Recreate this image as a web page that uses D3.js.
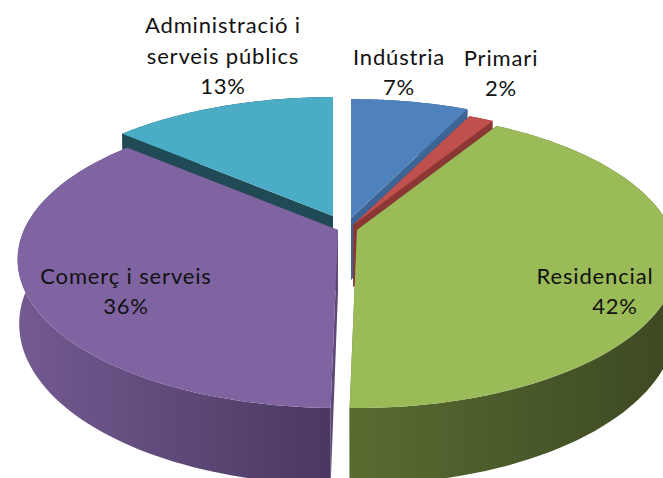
<!DOCTYPE html>
<html>
<head>
<meta charset="utf-8">
<script src="https://cdn.jsdelivr.net/npm/d3@7/dist/d3.min.js"></script>
<style>
html,body{margin:0;padding:0;background:#fff;overflow:hidden}
svg{display:block}
text{font-family:Lato,"Open Sans",sans-serif;font-size:22px;letter-spacing:0.85px;fill:#111;text-anchor:middle}
</style>
</head>
<body>
<svg id="c" width="663" height="478"></svg>
<script>
// Data
const categories = ["Indústria","Primari","Residencial","Comerç i serveis","Administració i serveis públics"];
const values = [7.2,1.5,41.6,36.0,13.7];
const percentLabels = ["7%","2%","42%","36%","13%"];

// Styles
const topColors  = ["#4f81bd","#c0504d","#9bbb59","#8064a2","#4bacc6"];
const faceColors = ["#3c6494","#8a3735","#5a6e32","#5c4775","#1f4a56"];
const wallStops  = [["#3c6494","#3c6494"],["#8a3735","#8a3735"],["#586c31","#3c4822"],["#735a91","#4a3860"],["#1f4a56","#1f4a56"]];

// Projection parameters
const RX=314, RY=142.6, K=0.199, SHRINK=0.005, DEPTH=62;
const center={x:345,y:222};
const apexShift=[[6,-4],[8,3],[12,8],[-7,8],[-12,-6]];
const drawOrder=[4,3,0,1,2];

const svg=d3.select("#c");
const defs=svg.append("defs");
const arcs=d3.pie().sort(null).value(d=>d)(values);

function project(i,theta,r,z){
  const u=r*Math.sin(theta), v=-r*Math.cos(theta), w=1-K*v, s=1-SHRINK*z;
  return [center.x+apexShift[i][0]+RX*u/w*s, center.y+apexShift[i][1]+RY*v/w*s+DEPTH*z/w];
}
const line=d3.line();
const closed=pts=>line(pts)+"Z";

drawOrder.forEach(i=>{
  const a=arcs[i];
  const steps=d3.range(0,1.0001,1/80).map(d3.scaleLinear().range([a.startAngle,a.endAngle]));
  const rimTop=steps.map(t=>project(i,t,1,0));
  const rimBot=steps.map(t=>project(i,t,1,1));
  const g=svg.append("g");
  const xs=rimTop.concat(rimBot).map(p=>p[0]);
  const grad=defs.append("linearGradient").attr("id","w"+i)
    .attr("gradientUnits","userSpaceOnUse")
    .attr("x1",d3.min(xs)).attr("x2",d3.max(xs)).attr("y1",0).attr("y2",0);
  const stops=wallStops[i];
  grad.append("stop").attr("offset",0).attr("stop-color",stops[0]);
  grad.append("stop").attr("offset",1).attr("stop-color",stops[1]);
  // radial faces
  [a.startAngle,a.endAngle].forEach(t=>{
    g.append("path")
     .attr("d",closed([project(i,0,0,0),project(i,t,1,0),project(i,t,1,1),project(i,0,0,1)]))
     .attr("fill",faceColors[i]);
  });
  // outer wall
  g.append("path").attr("d",closed(rimTop.concat(rimBot.slice().reverse()))).attr("fill",`url(#w${i})`);
  // top face
  g.append("path").attr("d",closed([project(i,0,0,0)].concat(rimTop))).attr("fill",topColors[i]);
});

// Labels
const labelLines=[["Indústria"],["Primari"],["Residencial"],["Comerç i serveis"],["Administració i","serveis públics"]];
const labelAnchors=[[399,95],[501,96],[595,314],[126,314],[223,94]];
labelLines.forEach((ls,i)=>{
  const [x,y]=labelAnchors[i];
  const rows=ls.concat([percentLabels[i]]);
  rows.forEach((t,j)=>{
    svg.append("text").attr("x",(i===2&&j===1)?615:x).attr("y",y-(rows.length-1-j)*30.5).text(t);
  });
});
</script>
</body>
</html>
